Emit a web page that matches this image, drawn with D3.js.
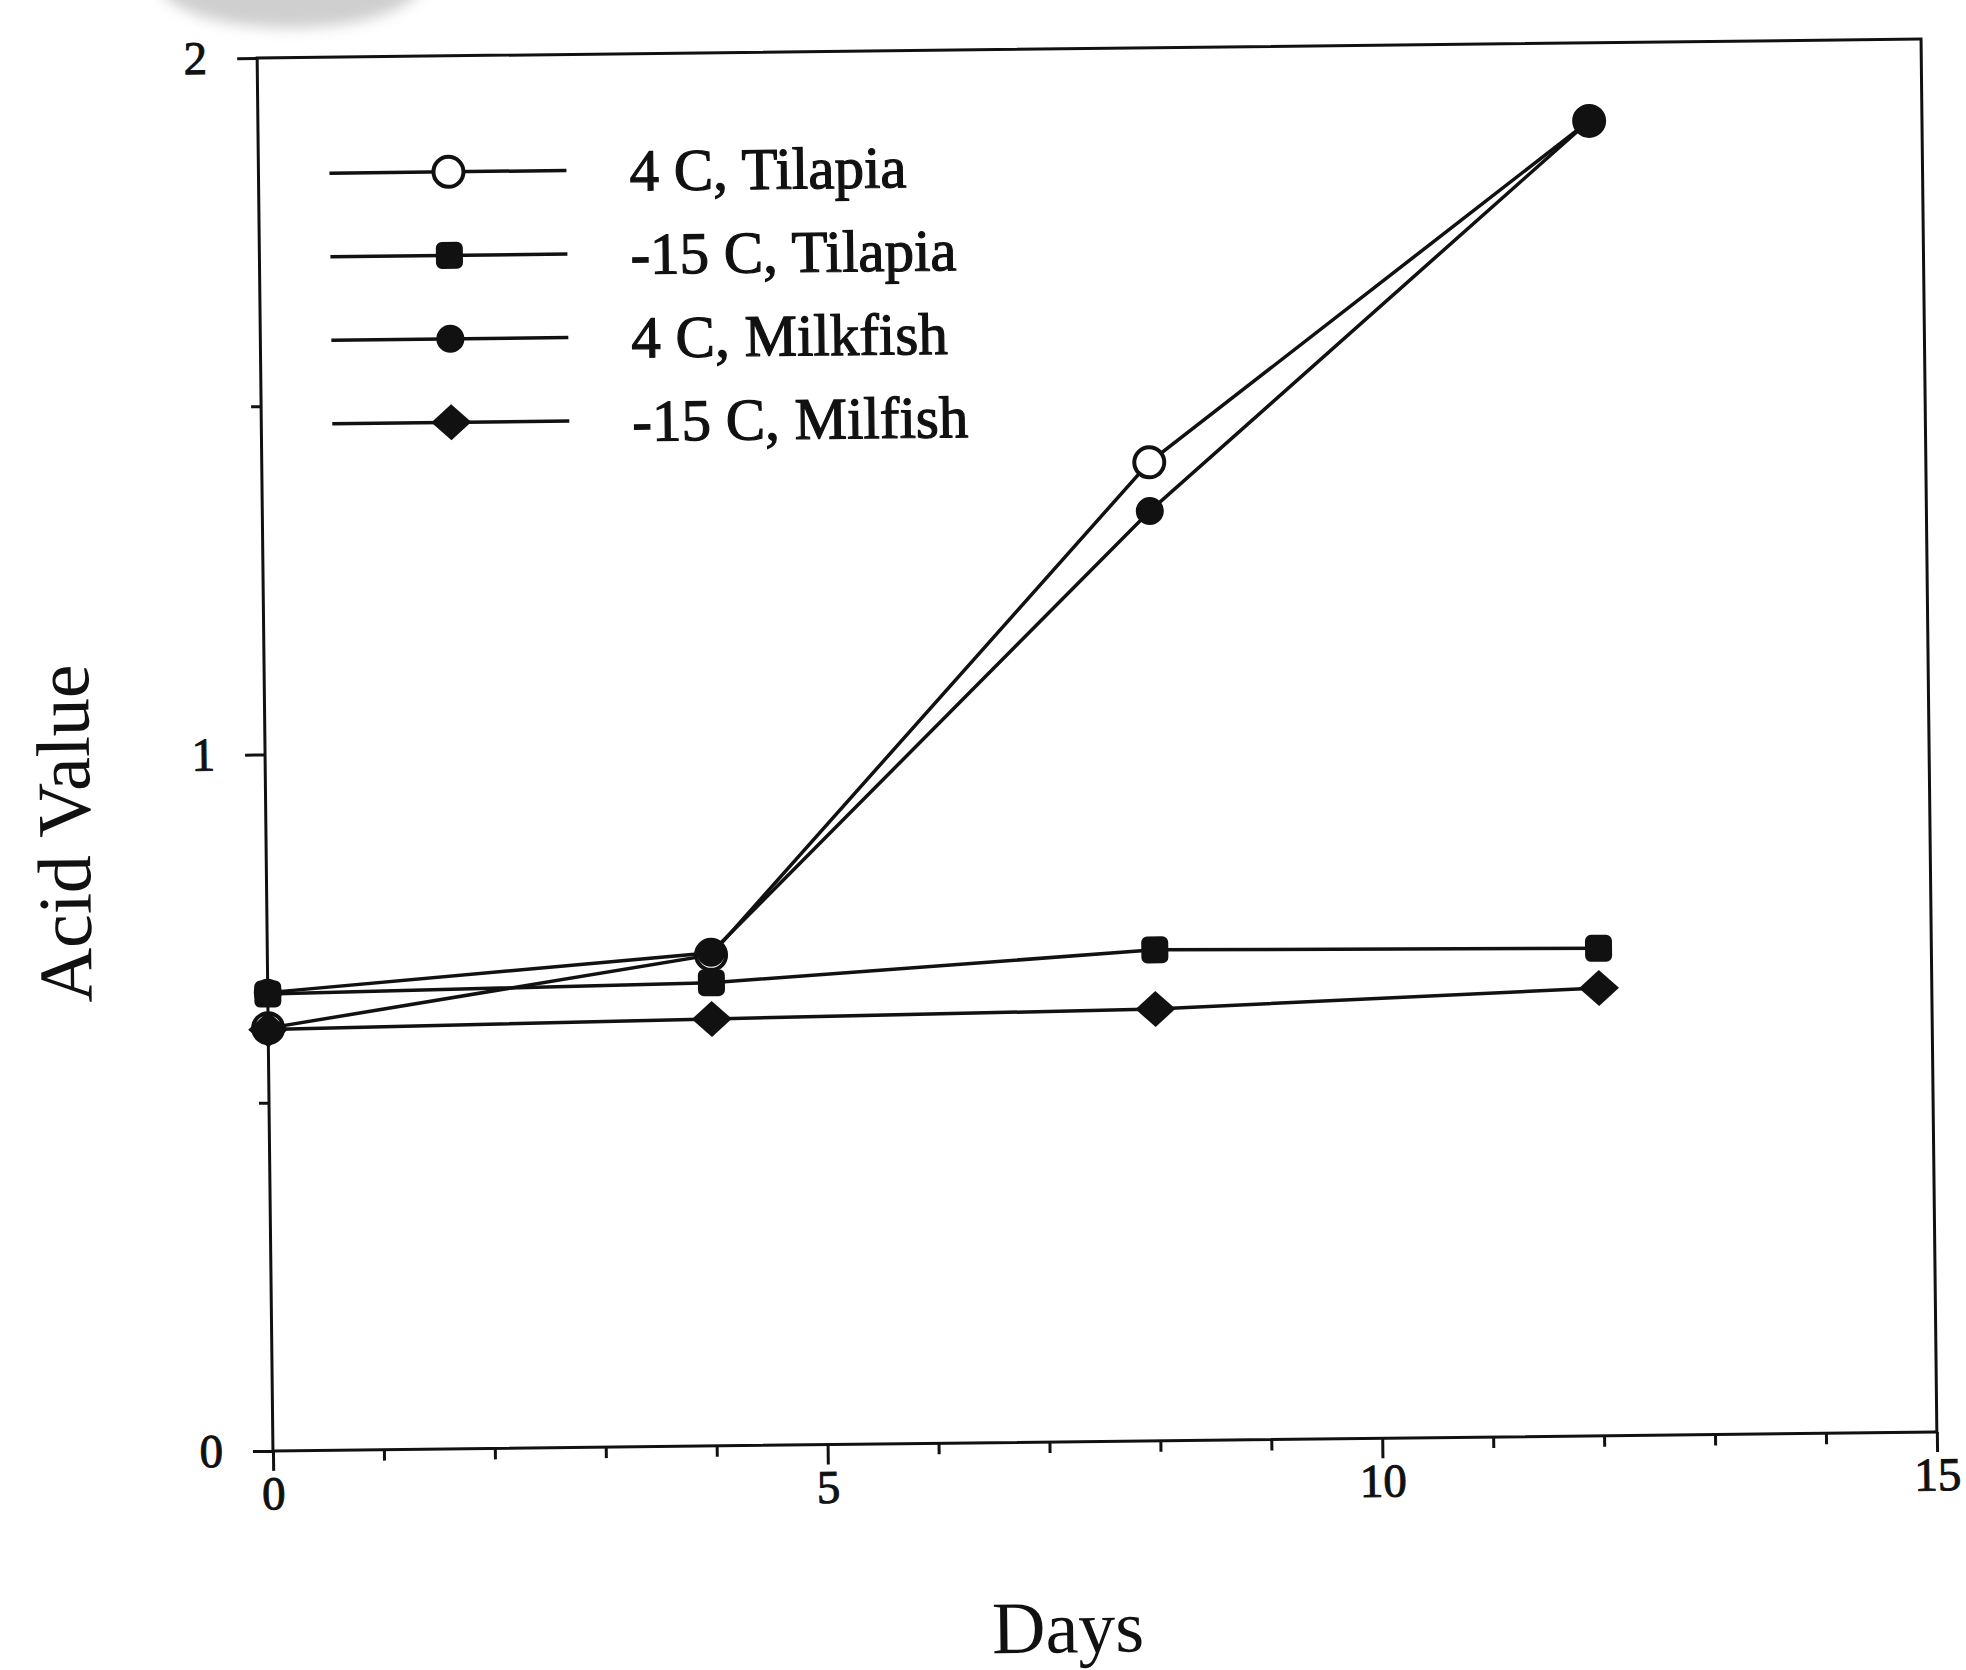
<!DOCTYPE html>
<html>
<head>
<meta charset="utf-8">
<script src="https://cdn.jsdelivr.net/npm/d3@7"></script>
<style>
  body { margin: 0; background: #fff; }
  text { font-family: "Liberation Serif", "Times New Roman", serif; fill: #111; }
</style>
</head>
<body>
<div id="chart"></div>
<script>
// data
const days = [0, 4, 8, 12];
const tilapia4 = [0.607, 0.705, 1.405, 1.888];
const tilapia15 = [0.656, 0.665, 0.705, 0.700];
const milkfish4 = [0.658, 0.708, 1.335, 1.888];
const milkfish15 = [0.605, 0.613, 0.620, 0.643];
const seriesNames = ['4 C, Tilapia', '-15 C, Tilapia', '4 C, Milkfish', '-15 C, Milfish'];
const markerKinds = ['open', 'square', 'dot', 'diamond'];

const xMajorTicks = [0, 5, 10, 15];
const xMinorTicks = [1, 2, 3, 4, 6, 7, 8, 9, 11, 12, 13, 14];
const yMajorTicks = [0, 1, 2];
const yMinorTicks = [0.5, 1.5];

const width = 1966, height = 1670;
const ink = '#111';

const series = [tilapia4, tilapia15, milkfish4, milkfish15].map((vals, i) => ({
    name: seriesNames[i],
    kind: markerKinds[i],
    points: vals.map((v, j) => ({day: days[j], v: v}))
}));

// plot box (unrotated), the scan is tilted a bit
const plotLeft = 265, plotRight = 1929, plotTop = 48.5, plotBottom = 1441.5;
const x = d3.scaleLinear().domain([0, 15]).range([plotLeft, plotRight]);
const y = d3.scaleLinear().domain([0, 2]).range([plotBottom, plotTop]);

const svg = d3.select('#chart').append('svg')
    .attr('width', width)
    .attr('height', height)
    .attr('viewBox', [0, 0, width, height])
    .style('background', '#fff')
    .style('display', 'block');

// grey smudge from the scan
const defs = svg.append('defs');
defs.append('filter').attr('id', 'blur')
    .attr('x', '-50%').attr('y', '-50%').attr('width', '200%').attr('height', '200%')
    .append('feGaussianBlur').attr('stdDeviation', 7);
svg.append('ellipse')
    .attr('cx', 290).attr('cy', -18)
    .attr('rx', 132).attr('ry', 46)
    .attr('fill', '#cfcfcf')
    .attr('filter', 'url(#blur)');

const g = svg.append('g').attr('transform', 'rotate(-0.65 1097 745)');

// frame
g.append('rect')
    .attr('x', plotLeft).attr('y', plotTop)
    .attr('width', plotRight - plotLeft).attr('height', plotBottom - plotTop)
    .attr('fill', 'none').attr('stroke', ink).attr('stroke-width', 3);

function styleAxis(sel) {
    sel.select('.domain').remove();
    sel.selectAll('.tick line').attr('stroke', ink).attr('stroke-width', 3);
    sel.selectAll('.tick text')
        .attr('fill', ink)
        .attr('stroke', ink)
        .attr('stroke-width', 1)
        .style('font-size', '47px')
        .style('font-family', '"Liberation Serif", serif');
}

// x axis
g.append('g')
    .attr('transform', `translate(0,${plotBottom})`)
    .call(d3.axisBottom(x).tickValues(xMajorTicks).tickSize(20).tickPadding(5).tickFormat(d3.format('d')))
    .call(styleAxis);
g.append('g')
    .attr('transform', `translate(0,${plotBottom})`)
    .call(d3.axisBottom(x).tickValues(xMinorTicks).tickSize(11).tickFormat(''))
    .call(styleAxis);

// y axis
g.append('g')
    .attr('transform', `translate(${plotLeft},0)`)
    .call(d3.axisLeft(y).tickValues(yMajorTicks).tickSize(20).tickPadding(30).tickFormat(d3.format('d')))
    .call(styleAxis);
g.append('g')
    .attr('transform', `translate(${plotLeft},0)`)
    .call(d3.axisLeft(y).tickValues(yMinorTicks).tickSize(10).tickFormat(''))
    .call(styleAxis);

// axis titles
g.append('text')
    .attr('x', 1058).attr('y', 1652)
    .attr('text-anchor', 'middle')
    .style('font-size', '74px')
    .text('Days');
g.append('text')
    .attr('transform', 'translate(89,822) rotate(-90)')
    .attr('text-anchor', 'middle')
    .style('font-size', '76px')
    .text('Acid Value');

// markers
function drawMarker(sel, kind) {
    if (kind === 'open') {
        sel.append('circle').attr('r', 15)
            .attr('fill', '#fff').attr('stroke', ink).attr('stroke-width', 4);
    } else if (kind === 'dot') {
        sel.append('circle').attr('r', 14).attr('fill', ink);
    } else if (kind === 'square') {
        sel.append('rect').attr('x', -13.5).attr('y', -13.5)
            .attr('width', 27).attr('height', 27).attr('rx', 6).attr('fill', ink);
    } else {
        sel.append('path').attr('d', 'M0,-18L20,0L0,18L-20,0Z').attr('fill', ink);
    }
}

const line = d3.line().x(d => x(d.day)).y(d => y(d.v));

g.append('g').selectAll('path')
    .data(series)
    .join('path')
    .attr('d', d => line(d.points))
    .attr('fill', 'none')
    .attr('stroke', ink)
    .attr('stroke-width', 3.5);

series.forEach(s => {
    g.append('g').selectAll('g')
        .data(s.points)
        .join('g')
        .attr('transform', d => `translate(${x(d.day)},${y(d.v)})`)
        .each(function() { drawMarker(d3.select(this), s.kind); });
});

// legend
const legend = g.append('g');
series.forEach((s, i) => {
    const ly = 164.5 + i * 83.5;
    legend.append('line')
        .attr('x1', 336).attr('x2', 573)
        .attr('y1', ly).attr('y2', ly)
        .attr('stroke', ink).attr('stroke-width', 3.5);
    drawMarker(legend.append('g').attr('transform', `translate(455,${ly})`), s.kind);
    legend.append('text')
        .attr('x', 636).attr('y', ly)
        .attr('dy', '0.35em')
        .attr('stroke', ink)
        .attr('stroke-width', 1.2)
        .style('font-size', '59px')
        .text(s.name);
});
</script>
</body>
</html>
